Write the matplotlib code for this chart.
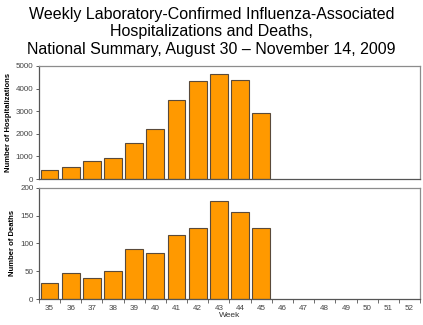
import numpy as np
import matplotlib.pyplot as plt

plt.rcParams['font.family'] = ['Liberation Sans', 'DejaVu Sans']

weeks = [str(w) for w in range(35, 53)]
hosp = [420, 520, 810, 930, 1580, 2210, 3510, 4330, 4660, 4365, 2905]
deaths = [29, 46, 37, 51, 90, 83, 116, 127, 177, 157, 128]

fig = plt.figure(figsize=(4.23, 3.25), dpi=100)
ax1 = fig.add_axes([0.092, 0.449, 0.901, 0.348])
ax2 = fig.add_axes([0.092, 0.080, 0.901, 0.342])

fig.text(0.5, 0.98, 'Weekly Laboratory-Confirmed Influenza-Associated\n'
         'Hospitalizations and Deaths,\n'
         'National Summary, August 30 \u2013 November 14, 2009',
         ha='center', va='top', fontsize=11.5, linespacing=1.22)

orange = '#FF9900'
edge = '#5a4a3a'
spine_c = '#8c8c8c'

x = np.arange(len(weeks))

for ax, vals, ymax, step, lab in [(ax1, hosp, 5000, 1000, 'Number of Hospitalizations'),
                                  (ax2, deaths, 200, 50, 'Number of Deaths')]:
    ax.bar(x[:len(vals)], vals, width=0.84, color=orange, edgecolor=edge, linewidth=0.8)
    ax.set_xlim(-0.5, len(weeks) - 0.5)
    ax.set_ylim(0, ymax)
    ax.set_yticks(np.arange(0, ymax + 1, step))
    ax.tick_params(axis='y', labelsize=5.8, colors='#444444', length=2.5, width=0.6,
                   pad=1.5)
    ax.set_ylabel(lab, fontsize=5.5, fontweight='bold', labelpad=3)
    for s in ax.spines.values():
        s.set_color(spine_c)
        s.set_linewidth(0.9)
    ax.spines['left'].set_color('#555555')
    ax.spines['bottom'].set_color('#555555')

ax1.set_xticks([])

ax2.set_xticks(np.arange(-0.5, len(weeks), 1.0))
ax2.set_xticklabels([])
ax2.set_xticks(x, minor=True)
ax2.set_xticklabels(weeks, minor=True)
ax2.tick_params(axis='x', which='major', length=3, width=0.6, colors='#555555')
ax2.tick_params(axis='x', which='minor', length=0, labelsize=5.8, labelcolor='#444444',
                pad=4)
ax2.set_xlabel('Week', fontsize=6, color='#333333', labelpad=0)

fig.savefig('out.png', dpi=100)
